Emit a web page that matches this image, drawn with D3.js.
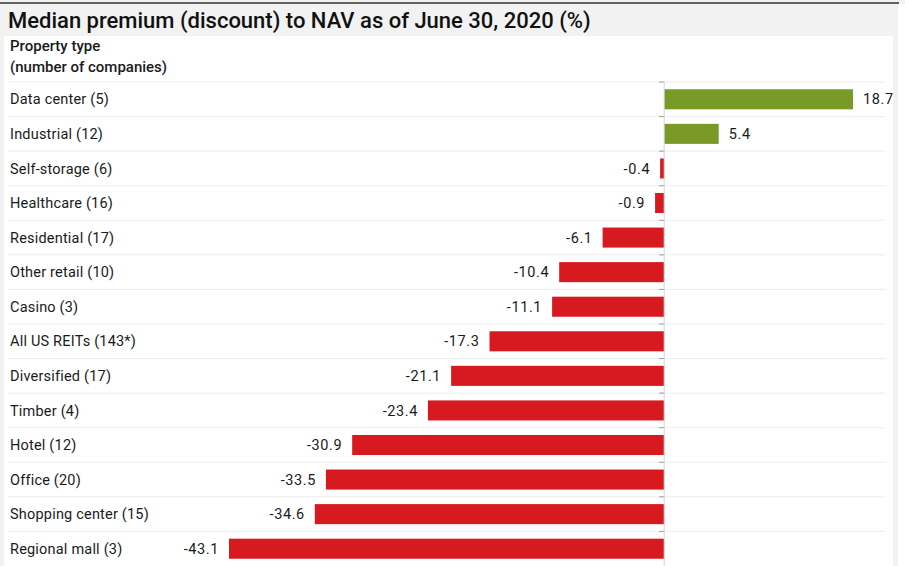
<!DOCTYPE html>
<html>
<head>
<meta charset="utf-8">
<script src="https://cdn.jsdelivr.net/npm/d3@7"></script>
<style>
  body { margin: 0; background: #f2f2f2; }
  svg { display: block; }
  .lbl { font-family: Roboto, sans-serif; font-size: 14.5px; fill: #1a1a1a; }
</style>
</head>
<body>
<div id="chart"></div>
<script>
var categories = ["Data center (5)", "Industrial (12)", "Self-storage (6)", "Healthcare (16)",
  "Residential (17)", "Other retail (10)", "Casino (3)", "All US REITs (143*)", "Diversified (17)",
  "Timber (4)", "Hotel (12)", "Office (20)", "Shopping center (15)", "Regional mall (3)"];
var values = [18.7, 5.4, -0.4, -0.9, -6.1, -10.4, -11.1, -17.3, -21.1, -23.4, -30.9, -33.5, -34.6, -43.1];

var width = 905, height = 566;
var svg = d3.select("#chart").append("svg").attr("width", width).attr("height", height);

// backgrounds
svg.append("rect").attr("x", 0).attr("y", 0).attr("width", width).attr("height", height).attr("fill", "#f2f2f2");
svg.append("line").attr("x1", 0).attr("x2", 899).attr("y1", 3).attr("y2", 3).attr("stroke", "#333").attr("stroke-width", 1.5);
svg.append("rect").attr("x", 4).attr("y", 36).attr("width", 889).attr("height", height - 36).attr("fill", "#fff");
svg.append("rect").attr("x", 898).attr("y", 4).attr("width", 7).attr("height", height - 4).attr("fill", "#fff");

svg.append("text").attr("x", 8).attr("y", 28)
  .style("font-family", "Roboto, sans-serif").style("font-size", "22px").style("font-weight", 500).style("fill", "#111")
  .text("Median premium (discount) to NAV as of June 30, 2020 (%)");
svg.append("text").attr("class", "lbl").attr("x", 10).attr("y", 51).style("font-size", "15px").style("font-weight", 500).text("Property type");
svg.append("text").attr("class", "lbl").attr("x", 10).attr("y", 72).style("font-size", "15px").style("font-weight", 500).text("(number of companies)");

var x = d3.scaleLinear().domain([-43.1, 18.7]).range([229, 853]);
var y = d3.scaleBand().domain(categories).range([82, 566]).paddingInner(0.42).paddingOuter(0.21);
var step = y.step();

var rows = svg.append("g");
// separators
rows.selectAll(".sep").data(categories).enter().append("line")
  .attr("x1", 8).attr("x2", 885)
  .attr("y1", function (d) { return y(d) - step * 0.21; })
  .attr("y2", function (d) { return y(d) - step * 0.21; })
  .attr("stroke", "#ececec");

// zero axis
svg.append("line").attr("x1", x(0)).attr("x2", x(0)).attr("y1", 82).attr("y2", height)
  .attr("stroke", "#d4d4d4");
rows.selectAll(".tick").data(categories).enter().append("line")
  .attr("x1", x(0) - 5).attr("x2", x(0))
  .attr("y1", function (d) { return y(d) - step * 0.21; })
  .attr("y2", function (d) { return y(d) - step * 0.21; })
  .attr("stroke", "#999");

rows.selectAll(".bar").data(values).enter().append("rect")
  .attr("x", function (d) { return x(Math.min(0, d)); })
  .attr("width", function (d) { return Math.abs(x(d) - x(0)); })
  .attr("y", function (d, i) { return y(categories[i]); })
  .attr("height", y.bandwidth())
  .attr("fill", function (d) { return d >= 0 ? "#7a9a27" : "#d71920"; });

rows.selectAll(".cat").data(categories).enter().append("text")
  .attr("class", "lbl").attr("x", 10)
  .attr("y", function (d) { return y(d) + y.bandwidth() / 2; })
  .attr("dy", "0.35em")
  .style("letter-spacing", "0.2px")
  .text(function (d) { return d; });

rows.selectAll(".val").data(values).enter().append("text")
  .attr("class", "lbl")
  .attr("x", function (d) { return d >= 0 ? x(d) + 10 : x(d) - 10; })
  .attr("y", function (d, i) { return y(categories[i]) + y.bandwidth() / 2; })
  .attr("dy", "0.35em")
  .attr("text-anchor", function (d) { return d >= 0 ? "start" : "end"; })
  .style("letter-spacing", "0.6px")
  .text(function (d) { return d.toFixed(1); });
</script>
</body>
</html>
